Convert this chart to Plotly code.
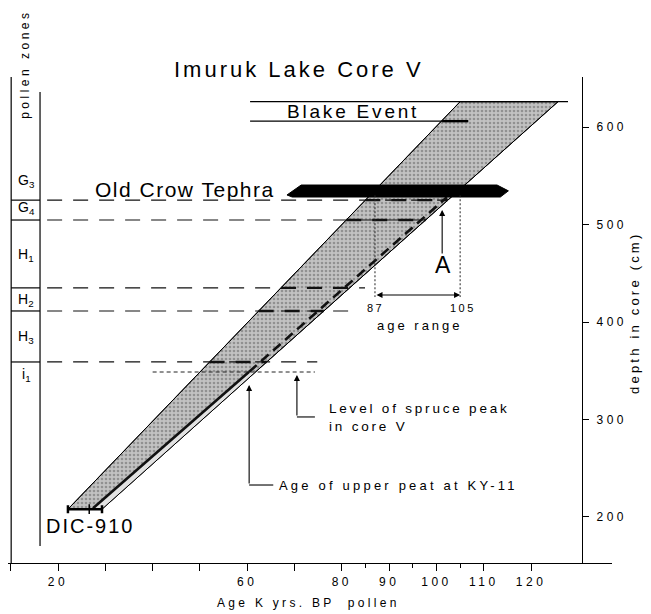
import numpy as np
import plotly.graph_objects as go

# ---------------- data ----------------
x_tick_vals = [10, 20, 30, 40, 50, 60, 70, 80, 90, 100, 110, 120]
x_tick_labels = ["", "20", "", "", "", "60", "", "80", "90", "100", "110", "120"]
x_minor_vals = [85, 95, 105]
y_tick_vals = [200, 300, 400, 500, 600]
y_tick_labels = ["200", "300", "400", "500", "600"]

# age-depth envelope (age kyr, depth cm)
band_age = [22.1, 29.3, 125.7, 105.0, 22.1]
band_depth = [208, 208, 626, 626, 208]
light_age = [27.4, 29.3, 61.8, 60.4, 27.4]
light_depth = [209, 208, 349, 349, 209]

# central age model line
solid_age = [27.4, 60.4]
solid_depth = [209, 349]
dash_age = [60.4, 102.2]
dash_depth = [349, 528]

# pollen zone boundaries (depth) and where their dashed lines stop (age)
zone_depths = [525, 504.6, 435, 411.3, 359]
zone_line_end = [102.4, 98.6, 84.9, 82.4, 74.8]
zone_labels = ["G<sub>3</sub>", "G<sub>4</sub>", "H<sub>1</sub>", "H<sub>2</sub>", "H<sub>3</sub>", "i<sub>1</sub>"]
zone_label_depths = [544.6, 516.9, 468.7, 422.6, 384.6, 345.6]
zone_col_left = 10.1
zone_col_right = 16.2

# spruce peak level
spruce_depth = 348.7
spruce_age = [40.0, 74.3]

# Old Crow tephra outline
tephra_age = [68.4, 71.4, 112.8, 115.2, 113.5, 69.5, 68.4]
tephra_depth = [530.3, 540.5, 540.5, 534.5, 528.2, 528.2, 530.3]

# Blake event bounds
blake_top_age = [60.6, 127.8]
blake_top_depth = 626
blake_bot_age = [60.6, 106.7]
blake_bot_depth = 606
blake_mark_age = [101.2, 106.7]

# age range
range_ages = [87, 105]
range_depth_top = 530
range_depth_bot = 425.6
range_arrow_depth = 427.7

# DIC-910 date
dic_age = 26.6
dic_minus = 4.5
dic_plus = 2.7
dic_depth = 208

FONT = "Liberation Sans"
fig = go.Figure()


def ls(t, sp):
    return f'<span style="letter-spacing:{sp}px">{t}</span>'


def line(x, y, width=1.0, dash="solid", color="black"):
    fig.add_trace(go.Scatter(x=x, y=y, mode="lines", hoverinfo="skip",
                             line=dict(color=color, width=width, dash=dash)))


# envelope
fig.add_trace(go.Scatter(x=band_age, y=band_depth, mode="lines", fill="toself",
                         fillcolor="#bdbdbd",
                         fillpattern=dict(shape=".", bgcolor="#c2c2c2", fgcolor="#606060",
                                          size=4, solidity=0.35),
                         line=dict(color="black", width=1), hoverinfo="skip"))
fig.add_trace(go.Scatter(x=light_age, y=light_depth, mode="lines", fill="toself",
                         fillcolor="#e2e2e2", line=dict(color="rgba(0,0,0,0)", width=0),
                         hoverinfo="skip"))
line(band_age, band_depth, 1)

# pollen zone column
line([zone_col_left, zone_col_left], [152.8, 651.3], 1.2)
line([zone_col_right, zone_col_right], [170.3, 635.9], 1.2)
for d, end in zip(zone_depths, zone_line_end):
    line([zone_col_left, zone_col_right], [d, d], 1.2)
    line([zone_col_right + 1.5, end], [d, d], 1.2, "15px,11px", "#111")
    l = np.interp(d, [band_depth[0], band_depth[3]], [band_age[0], band_age[3]])
    r = np.interp(d, [band_depth[1], band_depth[2]], [band_age[1], band_age[2]])
    line([l, min(r, end)], [d, d], 2.4, "15px,11px", "#111")

# spruce level
line(spruce_age, [spruce_depth, spruce_depth], 1, "4px,3px", "#222")

# central line
line(solid_age, solid_depth, 2.6, "solid", "#111")
line(dash_age, dash_depth, 2.6, "10px,6px", "#111")

# tephra
fig.add_trace(go.Scatter(x=tephra_age, y=tephra_depth, mode="lines", fill="toself",
                         fillcolor="black", line=dict(color="black", width=1), hoverinfo="skip"))

# Blake event
line(blake_top_age, [blake_top_depth] * 2, 1.1)
line(blake_bot_age, [blake_bot_depth] * 2, 1.1)
line(blake_mark_age, [blake_bot_depth] * 2, 2.4)

# age range verticals
for a in range_ages:
    line([a, a], [range_depth_top, range_depth_bot], 1, "2px,2px", "#222")

# DIC-910
fig.add_trace(go.Scatter(x=[dic_age], y=[dic_depth], mode="markers", hoverinfo="skip",
                         marker=dict(symbol="line-ns", size=7, line=dict(width=1.5, color="black")),
                         error_x=dict(type="data", symmetric=False, array=[dic_plus],
                                      arrayminus=[dic_minus], color="black", thickness=2.5, width=4)))

# arrow paths (horizontal legs)
line([74.3, 70.5], [302.6, 302.6], 1.1)
line([65.5, 60.4], [232.8, 232.8], 1.1)

ann = []


def text(x, y, t, size=12, xanchor="center", **kw):
    ann.append(dict(x=x, y=y, xref="x", yref="y", text=t, showarrow=False,
                    xanchor=xanchor, yanchor="middle",
                    font=dict(family=FONT, size=size, color="black"), **kw))


def ptext(x, y, t, size, angle=0):
    ann.append(dict(x=x, y=y, xref="paper", yref="paper", text=t, showarrow=False,
                    xanchor="center", yanchor="middle", textangle=angle,
                    font=dict(family=FONT, size=size, color="black")))


def arrow(x, y, ax, ay, side="end"):
    ann.append(dict(x=x, y=y, ax=ax, ay=ay, xref="x", yref="y", axref="x", ayref="y",
                    text="", showarrow=True, arrowhead=2, arrowsize=1.1, arrowwidth=1.1,
                    arrowcolor="black", arrowside=side, standoff=0, startstandoff=0))


for lab, d in zip(zone_labels, zone_label_depths):
    text(13.3, d, lab, 14)

text(46.8, 535.4, ls("Old Crow Tephra", 1.5), 21)
text(82.4, 616.4, ls("Blake Event", 2.8), 19)
text(26.8, 190.8, ls("DIC-910", 2), 20)
text(101.4, 458.5, "A", 23)
text(87.2, 414.4, ls("87", 2.5), 11)
text(105.5, 414.4, ls("105", 2.5), 11)
text(96.5, 396.9, ls("age range", 3), 13)
text(76.9, 302.0, ls("Level of spruce peak", 2.8) + "<br>" + ls("in core V", 2.8), 13.5,
     "left", align="left")
text(66.3, 232.8, ls("Age of upper peat at KY-11", 3.2), 13, "left", align="left")

arrow(101.2, 515, 101.2, 468.7)
arrow(70.5, 345.6, 70.5, 302.6)
arrow(60.4, 335.4, 60.4, 232.8)
arrow(105, range_arrow_depth, 87, range_arrow_depth, "end+start")

ptext(0.481, 1.016, ls("Imuruk Lake Core V", 3), 22)
ptext(0.0281, 1.027, ls("pollen zones", 3.5), 12, -90)
ptext(0.497, -0.082, ls("Age K yrs. BP\u00a0 pollen", 3.3), 12)
ptext(1.036, 0.514, ls("depth in core (cm)", 3.2), 13, -90)

# the page body adds an 8px offset; the figure is sized to fill the rest of the window
fig.update_layout(
    width=643, height=606,
    margin=dict(l=0, r=39, t=69, b=51),
    plot_bgcolor="white", paper_bgcolor="white",
    showlegend=False,
    annotations=ann,
    xaxis=dict(range=[9.43, 137.1], showline=True, linecolor="black", linewidth=1.2,
               automargin=False,
               ticks="outside", ticklen=7, tickwidth=1.2, tickcolor="black",
               tickmode="array", tickvals=x_tick_vals,
               ticktext=[ls(t, 3.5) if t else "" for t in x_tick_labels],
               minor=dict(tickmode="array", tickvals=x_minor_vals, ticks="outside",
                          ticklen=4, tickwidth=1, tickcolor="black"),
               tickfont=dict(family=FONT, size=12, color="black"),
               showgrid=False, zeroline=False),
    yaxis=dict(range=[152.8, 651.3], side="right", anchor="free", position=0.9503,
               automargin=False,
               showline=True, linecolor="black", linewidth=1.2,
               ticks="outside", ticklen=6, tickwidth=1.2, tickcolor="black",
               ticklabelstandoff=5,
               tickmode="array", tickvals=y_tick_vals,
               ticktext=[ls(t, 3.5) for t in y_tick_labels],
               tickfont=dict(family=FONT, size=12, color="black"),
               showgrid=False, zeroline=False),
)

fig.write_html("out.html")
